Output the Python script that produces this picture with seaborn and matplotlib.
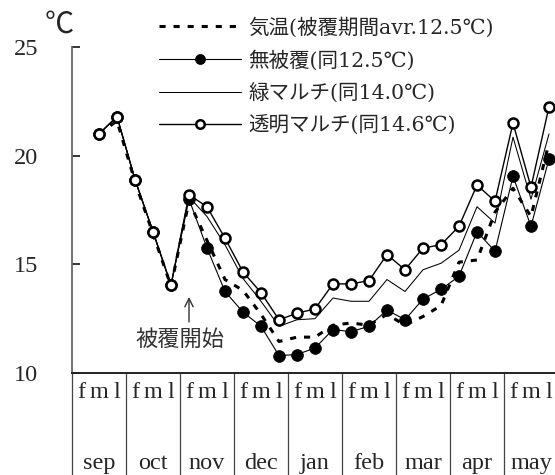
import numpy as np
import pandas as pd
import matplotlib
matplotlib.use("Agg")
import matplotlib.pyplot as plt
import seaborn as sns

# 旬別地温データ (9月中旬から5月下旬まで)
months = ['sep', 'oct', 'nov', 'dec', 'jan', 'feb', 'mar', 'apr', 'may']
decades = ['f', 'm', 'l']
first_idx = 1  # データは9月中旬から

air = [21.0, 21.6, 18.8, 16.4, 14.0, 17.9, 16.1, 14.3, 13.8, 12.7, 11.45, 11.65, 11.65,
       12.2, 12.3, 12.2, 12.7, 12.2, 12.6, 13.1, 15.1, 15.2, 17.4, 18.5, 17.2, 20.6]
bare = [21.0, 21.8, 18.9, 16.5, 14.05, 18.0, 15.75, 13.75, 12.8, 12.15, 10.8, 10.85, 11.15,
        12.0, 11.9, 12.15, 12.9, 12.45, 13.4, 13.85, 14.45, 16.5, 15.6, 19.05, 16.75, 19.85]
green = [21.0, 21.8, 18.9, 16.5, 14.05, 18.1, 17.2, 15.9, 14.35, 13.3, 12.15, 12.45, 12.5,
         13.45, 13.3, 13.3, 14.3, 13.75, 14.75, 15.05, 15.65, 17.65, 16.9, 20.85, 18.0, 21.0]
clear = [21.0, 21.8, 18.9, 16.5, 14.05, 18.2, 17.65, 16.2, 14.65, 13.7, 12.45, 12.75, 12.95,
         14.1, 14.1, 14.25, 15.45, 14.75, 15.75, 15.9, 16.75, 18.65, 17.9, 21.5, 18.55, 22.25]

labels = ['気温(被覆期間avr.12.5℃)', '無被覆(同12.5℃)', '緑マルチ(同14.0℃)', '透明マルチ(同14.6℃)']
cover_start = 'nov'

sns.set_theme(style="ticks")
plt.rcParams['font.family'] = ['Liberation Serif', 'Noto Sans CJK JP']

df = pd.DataFrame({'x': np.arange(first_idx, first_idx + len(air)),
                   'air': air, 'bare': bare, 'green': green, 'clear': clear})

fig = plt.figure(figsize=(5.55, 4.75), dpi=100)
ax = fig.add_axes([72 / 555, 102 / 475, 483 / 555, 326 / 475])

sns.lineplot(data=df, x='x', y='air', ax=ax, color='black', lw=2.2,
             linestyle=(0, (2, 2.6)), label=labels[0], zorder=2)
sns.lineplot(data=df, x='x', y='bare', ax=ax, color='black', lw=0.8, marker='o',
             markersize=8.5, markerfacecolor='black', markeredgecolor='black',
             markeredgewidth=0.5, label=labels[1], zorder=3)
sns.lineplot(data=df, x='x', y='green', ax=ax, color='black', lw=0.75,
             label=labels[2], zorder=2)
sns.lineplot(data=df, x='x', y='clear', ax=ax, color='black', lw=1.0, marker='o',
             markersize=7.2, markerfacecolor='white', markeredgecolor='black',
             markeredgewidth=1.8, label=labels[3], zorder=4)

n_dec = len(months) * len(decades)
ax.set_xlim(-0.5, -0.5 + 483 / 18)
ax.set_ylim(10, 25)
ax.set_yticks([10, 15, 20, 25])
ax.set_xticks([])
ax.set_xlabel('')
ax.set_ylabel('')
ax.tick_params(axis='y', direction='in', length=5.8, width=1.1, pad=24.5,
               labelsize=17.5, color='black')

sns.despine(ax=ax, top=True, right=True)
ax.spines['left'].set_color('#666666')
ax.spines['left'].set_linewidth(1.3)
ax.spines['bottom'].set_color('#222222')
ax.spines['bottom'].set_linewidth(1.4)

# 月区切りの表
for k in range(len(months) + 1):
    ax.axvline(-0.5 + 3 * k, ymin=-0.32, ymax=0, clip_on=False, color='#444444', lw=0.9)
trans = ax.get_xaxis_transform()
for i in range(n_dec):
    ax.text(i, -0.06, decades[i % 3], transform=trans, ha='center', va='center',
            fontsize=17.5, clip_on=False)
for k, m in enumerate(months):
    ax.text(3 * k + 1, -0.279, m, transform=trans, ha='center', va='center',
            fontsize=17.5, clip_on=False)

fig.text(59 / 555, 1 - 26 / 475, '℃', ha='center', va='center', fontsize=21)

# 被覆開始
xs = months.index(cover_start) * 3
ax.annotate('', xy=(xs, 13.5), xytext=(xs, 12.35),
            arrowprops=dict(arrowstyle='->,head_length=0.5,head_width=0.25',
                            color='#333333', lw=1.0, shrinkA=0, shrinkB=0))
ax.text(xs - 0.5, 11.47, '被覆開始', ha='center', va='center', fontsize=16, color='#333333')

leg = ax.legend(loc='upper left', bbox_to_anchor=(159 / 555, 1 - 17 / 475),
                bbox_transform=fig.transFigure, frameon=False, borderpad=0,
                borderaxespad=0, handlelength=4.0, handletextpad=0.35,
                labelspacing=0.6, fontsize=14.8, markerscale=0.85)
for t in leg.get_texts():
    t.set_family(['DejaVu Serif', 'Noto Sans CJK JP'])

fig.savefig('out.png', dpi=100)
